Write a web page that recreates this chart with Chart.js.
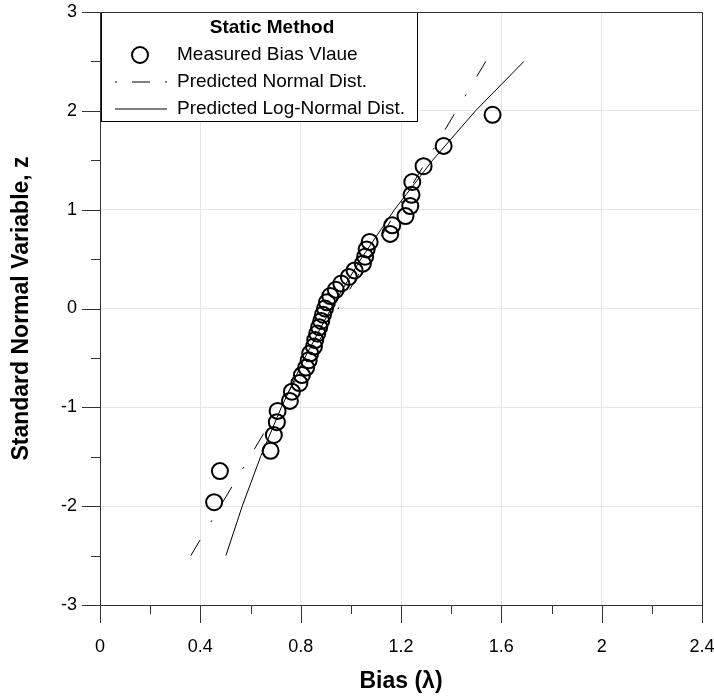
<!DOCTYPE html>
<html>
<head>
<meta charset="utf-8">
<script src="https://cdn.jsdelivr.net/npm/chart.js@4.4.0/dist/chart.umd.min.js"></script>
<style>
  html, body { margin: 0; padding: 0; background: #fff; }
  #wrap { width: 714px; height: 698px; }
</style>
</head>
<body>
<div id="wrap"><canvas id="chart"></canvas></div>
<script>
// measured bias values and their standard normal variable
const measuredZ = [-1.96, -1.645, -1.44, -1.28, -1.15, -1.036, -0.935, -0.842, -0.755, -0.674,
  -0.598, -0.524, -0.454, -0.385, -0.319, -0.253, -0.189, -0.126, -0.063, 0,
  0.063, 0.126, 0.189, 0.253, 0.319, 0.385, 0.454, 0.524, 0.598, 0.674,
  0.755, 0.842, 0.935, 1.036, 1.15, 1.28, 1.44, 1.645, 1.96];
const measuredBias = [0.455, 0.478, 0.68, 0.693, 0.705, 0.708, 0.757, 0.765, 0.795, 0.805,
  0.822, 0.832, 0.838, 0.853, 0.858, 0.866, 0.874, 0.882, 0.889, 0.897,
  0.905, 0.918, 0.94, 0.962, 0.992, 1.015, 1.048, 1.057, 1.063, 1.075,
  1.157, 1.165, 1.218, 1.237, 1.242, 1.245, 1.29, 1.37, 1.565];

// predicted normal distribution (straight line)
const normalZ = [-2.5, 2.5];
const normalBias = [0.362, 1.538];

// predicted log-normal distribution (curve)
const logNormalZ = [-2.5, -2, -1.5, -1, -0.5, 0, 0.5, 1, 1.5, 2, 2.5];
const logNormalBias = [0.502, 0.567, 0.640, 0.723, 0.816, 0.921, 1.040, 1.174, 1.326, 1.497, 1.690];

const xTickLabels = ['0', '0.4', '0.8', '1.2', '1.6', '2', '2.4'];
const yTickLabels = ['-3', '-2', '-1', '0', '1', '2', '3'];

const legendTitle = 'Static Method';
const legendLabels = ['Measured Bias Vlaue', 'Predicted Normal Dist.', 'Predicted Log-Normal Dist.'];

const FONT = '"Liberation Sans", Arial, Helvetica, sans-serif';
const DASH_DOT = [18, 21, 2, 21];

function toPoints(xs, ys) {
  return xs.map((x, i) => ({ x: x, y: ys[i] }));
}

// ticks outside the axes, major + minor, and the top/right frame
const axisDecor = {
  id: 'axisDecor',
  afterDraw(chart) {
    const { ctx, chartArea: a, scales } = chart;
    ctx.save();
    ctx.strokeStyle = '#333';
    ctx.lineWidth = 1;
    ctx.beginPath();
    ctx.moveTo(a.left, a.top + 0.5);
    ctx.lineTo(a.right + 0.5, a.top + 0.5);
    ctx.lineTo(a.right + 0.5, a.bottom);
    ctx.stroke();

    const xt = scales.x.ticks.map(t => t.value);
    ctx.beginPath();
    xt.forEach((v, i) => {
      const px = Math.round(scales.x.getPixelForValue(v)) + 0.5;
      ctx.moveTo(px, a.bottom);
      ctx.lineTo(px, a.bottom + 18);
      if (i < xt.length - 1) {
        const mx = Math.round(scales.x.getPixelForValue((v + xt[i + 1]) / 2)) + 0.5;
        ctx.moveTo(mx, a.bottom);
        ctx.lineTo(mx, a.bottom + 9);
      }
    });
    const yt = scales.y.ticks.map(t => t.value);
    yt.forEach((v, i) => {
      const py = Math.round(scales.y.getPixelForValue(v)) + 0.5;
      ctx.moveTo(a.left, py);
      ctx.lineTo(a.left - 18, py);
      if (i < yt.length - 1) {
        const my = Math.round(scales.y.getPixelForValue((v + yt[i + 1]) / 2)) + 0.5;
        ctx.moveTo(a.left, my);
        ctx.lineTo(a.left - 9, my);
      }
    });
    ctx.stroke();
    ctx.restore();
  }
};

// boxed legend in the top-left corner of the plot
const boxLegend = {
  id: 'boxLegend',
  afterDatasetsDraw(chart) {
    const { ctx, chartArea: a } = chart;
    const x0 = a.left + 1, y0 = a.top, w = 316, h = 109;
    ctx.save();
    ctx.fillStyle = '#fff';
    ctx.fillRect(x0, y0, w, h);
    ctx.strokeStyle = '#000';
    ctx.lineWidth = 1;
    ctx.strokeRect(x0 + 0.5, y0 + 0.5, w, h);

    ctx.fillStyle = '#000';
    ctx.textBaseline = 'middle';
    ctx.textAlign = 'center';
    ctx.font = 'bold 19px ' + FONT;
    ctx.fillText(legendTitle, x0 + 171, y0 + 16);

    ctx.font = '19px ' + FONT;
    ctx.textAlign = 'left';
    const rows = [y0 + 43, y0 + 70, y0 + 97];
    legendLabels.forEach((t, i) => ctx.fillText(t, x0 + 76, rows[i]));

    ctx.lineWidth = 2;
    ctx.beginPath();
    ctx.arc(x0 + 39, rows[0], 8, 0, Math.PI * 2);
    ctx.stroke();

    ctx.lineWidth = 1;
    ctx.beginPath();
    ctx.moveTo(x0 + 14, rows[1]); ctx.lineTo(x0 + 16, rows[1]);
    ctx.moveTo(x0 + 31, rows[1]); ctx.lineTo(x0 + 49, rows[1]);
    ctx.moveTo(x0 + 64, rows[1]); ctx.lineTo(x0 + 66, rows[1]);
    ctx.moveTo(x0 + 14, rows[2]); ctx.lineTo(x0 + 66, rows[2]);
    ctx.stroke();
    ctx.restore();
  }
};

const gridColor = ctx => (ctx.index === 0 || ctx.index === ctx.chart.scales[ctx.scale.id].ticks.length - 1) ? 'rgba(0,0,0,0)' : '#e6e6e6';

new Chart(document.getElementById('chart').getContext('2d'), {
  type: 'scatter',
  data: {
    datasets: [
      {
        label: legendLabels[2],
        data: toPoints(logNormalBias, logNormalZ),
        showLine: true,
        borderColor: '#000',
        borderWidth: 1,
        pointRadius: 0,
        tension: 0,
      },
      {
        label: legendLabels[1],
        data: toPoints(normalBias, normalZ),
        showLine: true,
        borderColor: '#000',
        borderWidth: 1,
        borderDash: DASH_DOT,
        pointRadius: 0,
      },
      {
        label: legendLabels[0],
        data: toPoints(measuredBias, measuredZ),
        pointStyle: 'circle',
        pointRadius: 8,
        pointBorderWidth: 2,
        borderColor: '#000',
        backgroundColor: 'rgba(0,0,0,0)',
        pointHoverRadius: 8,
      },
    ],
  },
  options: {
    responsive: true,
    maintainAspectRatio: false,
    animation: false,
    layout: { padding: { top: 12, right: 12, left: 0, bottom: 0 } },
    plugins: {
      legend: { display: false },
      tooltip: { enabled: false },
    },
    scales: {
      x: {
        type: 'linear',
        min: 0,
        max: 2.4,
        afterFit: s => { s.height = 93; s.paddingLeft = 0; s.paddingRight = 0; },
        ticks: {
          stepSize: 0.4,
          color: '#000',
          padding: 31,
          font: { family: FONT, size: 18 },
          callback: (v, i) => xTickLabels[i],
          maxRotation: 0,
        },
        grid: { color: gridColor, drawTicks: false },
        border: { color: '#333', width: 1 },
        title: {
          display: true,
          text: 'Bias (λ)',
          color: '#000',
          font: { family: FONT, size: 23, weight: 'bold' },
          padding: { top: 0, bottom: 3 },
        },
      },
      y: {
        type: 'linear',
        min: -3,
        max: 3,
        afterFit: s => { s.width = 100; s.paddingTop = 0; s.paddingBottom = 0; },
        ticks: {
          stepSize: 1,
          color: '#000',
          padding: 23,
          font: { family: FONT, size: 18 },
          callback: (v, i) => yTickLabels[i],
        },
        grid: { color: gridColor, drawTicks: false },
        border: { color: '#333', width: 1 },
        title: {
          display: true,
          text: 'Standard Normal Variable, z',
          color: '#000',
          font: { family: FONT, size: 23, weight: 'bold' },
          padding: { top: 8, bottom: 0 },
        },
      },
    },
  },
  plugins: [axisDecor, boxLegend],
});
</script>
</body>
</html>
